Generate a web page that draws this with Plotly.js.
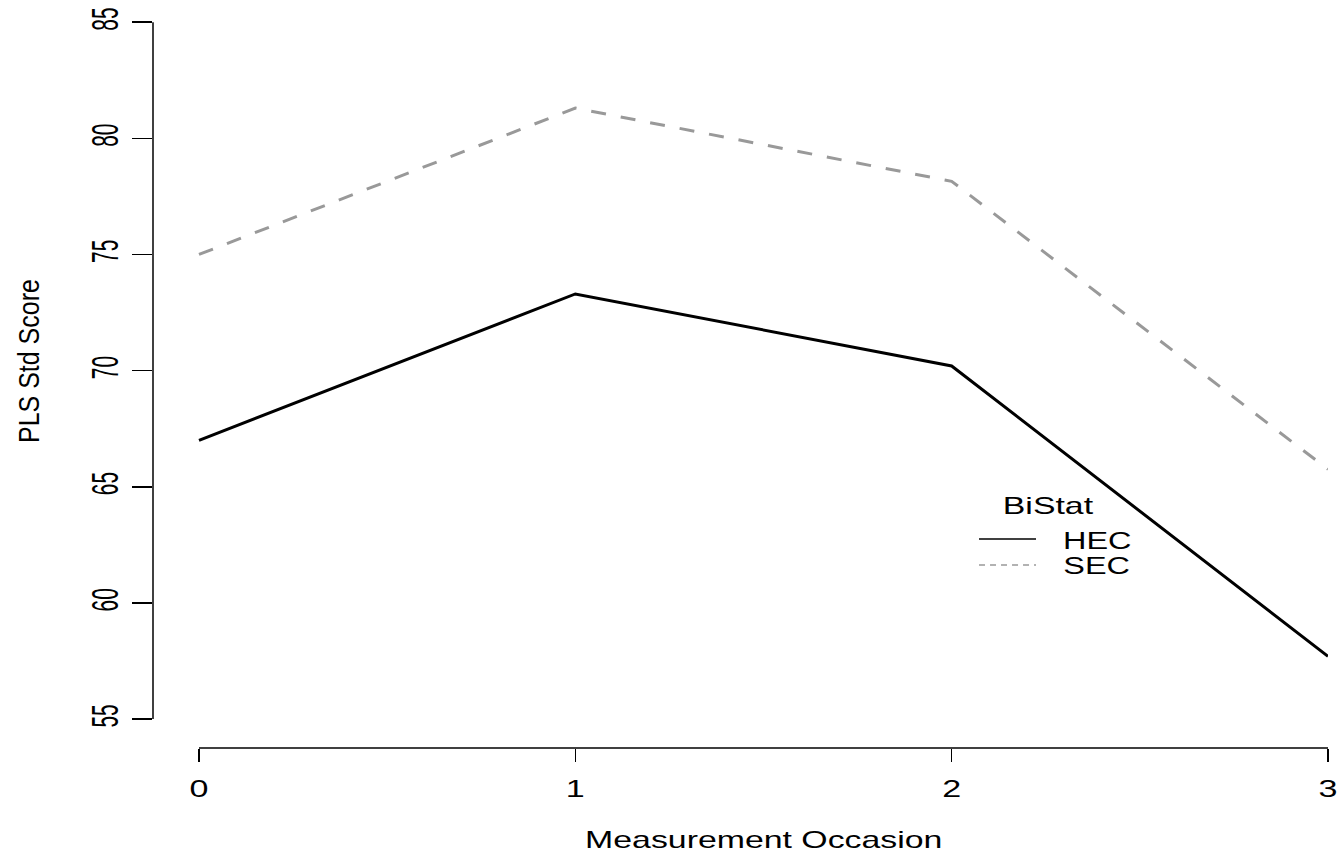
<!DOCTYPE html>
<html>
<head>
<meta charset="utf-8">
<script src="https://cdn.plot.ly/plotly-3.0.1.min.js"></script>
<style>html,body{margin:0;padding:0;background:#fff;}#chart{width:1341px;height:854px;}</style>
</head>
<body>
<div id="chart"></div>
<script>
// Data
const occasions = [0, 1, 2, 3];
const xTickLabels = ["0", "1", "2", "3"];
const yTickValues = [55, 60, 65, 70, 75, 80, 85];
const hecScores = [67.0, 73.3, 70.2, 57.7];
const secScores = [75.0, 81.3, 78.15, 65.75];
const groupNames = ["HEC", "SEC"];
const legendTitle = "BiStat";
const xTitle = "Measurement Occasion";
const yTitle = "PLS Std Score";

const FONT = "Liberation Sans, Arial, sans-serif";

const traces = [
  {x: occasions, y: hecScores, name: groupNames[0], type: "scatter", mode: "lines",
   line: {color: "#000000", width: 3}, showlegend: false, hoverinfo: "skip"},
  {x: occasions, y: secScores, name: groupNames[1], type: "scatter", mode: "lines",
   line: {color: "#999999", width: 3, dash: "15px,15px"}, showlegend: false, hoverinfo: "skip"}
];

const layout = {
  width: 1341, height: 854,
  margin: {l: 153, r: 13, t: 21, b: 106},
  paper_bgcolor: "#ffffff", plot_bgcolor: "#ffffff",
  font: {family: FONT, color: "#000000"},
  showlegend: false,
  xaxis: {
    range: [-0.1222, 3], showgrid: false, zeroline: false, showline: false,
    tickmode: "array", tickvals: occasions, ticktext: xTickLabels,
    ticks: "outside", ticklen: 13, tickwidth: 1.5, tickcolor: "#000",
    tickfont: {family: FONT, size: 24, color: "#000"}, ticklabelstandoff: 6
  },
  yaxis: {
    range: [53.754, 85.05], showgrid: false, zeroline: false, showline: false,
    tickmode: "array", tickvals: yTickValues, ticktext: yTickValues.map(String),
    ticks: "outside", ticklen: 20, tickwidth: 1.5, tickcolor: "#000",
    tickangle: -90,
    tickfont: {family: FONT, size: 21, color: "#000"}, ticklabelstandoff: 12
  },
  shapes: [
    {type: "line", xref: "paper", yref: "y", x0: 0, x1: 0, y0: yTickValues[0], y1: yTickValues[yTickValues.length-1],
     line: {color: "#000", width: 1.5}},
    {type: "line", xref: "x", yref: "paper", x0: occasions[0], x1: occasions[occasions.length-1], y0: 0, y1: 0,
     line: {color: "#000", width: 1.5}},
    {type: "line", xref: "paper", yref: "paper", x0: 0.703, x1: 0.7515, y0: 0.2875, y1: 0.2875,
     line: {color: "#000", width: 1.3}},
    {type: "line", xref: "paper", yref: "paper", x0: 0.703, x1: 0.7515, y0: 0.2517, y1: 0.2517,
     line: {color: "#999999", width: 1.3, dash: "6px,5px"}}
  ],
  annotations: [
    {xref: "x", yref: "paper", x: 1.5, y: -0.1265, xanchor: "center", yanchor: "middle",
     text: xTitle, showarrow: false, font: {family: FONT, size: 24, color: "#000"}},
    {xref: "paper", yref: "paper", x: -0.1068, y: 0.5316, xanchor: "center", yanchor: "middle",
     text: yTitle, textangle: -90, showarrow: false, font: {family: FONT, size: 25, color: "#000"}},
    {xref: "paper", yref: "paper", x: 0.7621, y: 0.3329, xanchor: "center", yanchor: "middle",
     text: legendTitle, showarrow: false, font: {family: FONT, size: 24, color: "#000"}},
    {xref: "paper", yref: "paper", x: 0.8038, y: 0.2854, xanchor: "center", yanchor: "middle",
     text: groupNames[0], showarrow: false, font: {family: FONT, size: 23, color: "#000"}},
    {xref: "paper", yref: "paper", x: 0.8030, y: 0.2510, xanchor: "center", yanchor: "middle",
     text: groupNames[1], showarrow: false, font: {family: FONT, size: 23, color: "#000"}}
  ]
};

// The reference image is horizontally stretched; widen text glyphs about their centres.
function stretchText(textEl, sx, sy) {
  const parent = textEl.parentNode;
  const r = textEl.getBoundingClientRect();
  const svg = textEl.ownerSVGElement;
  const pt = svg.createSVGPoint();
  pt.x = r.left + r.width / 2; pt.y = r.top + r.height / 2;
  const c = pt.matrixTransform(parent.getScreenCTM().inverse());
  const g = document.createElementNS("http://www.w3.org/2000/svg", "g");
  parent.insertBefore(g, textEl);
  g.appendChild(textEl);
  g.setAttribute("transform",
    "translate(" + c.x + "," + c.y + ") scale(" + sx + "," + sy + ") translate(" + (-c.x) + "," + (-c.y) + ")");
}

Plotly.newPlot("chart", traces, layout, {displayModeBar: false, staticPlot: true}).then(function (gd) {
  gd.querySelectorAll(".xtick text").forEach(t => stretchText(t, 1.42, 1));
  gd.querySelectorAll(".ytick text").forEach(t => stretchText(t, 1.8, 1));
  const ann = gd.querySelectorAll(".annotation-text");
  ann.forEach(t => {
    const s = t.textContent;
    // the y title's group is rotated, so its local y axis is the screen's horizontal
    if (s === yTitle) stretchText(t, 1, 1.18);
    else stretchText(t, 1.41, 1);
  });
});
</script>
</body>
</html>
